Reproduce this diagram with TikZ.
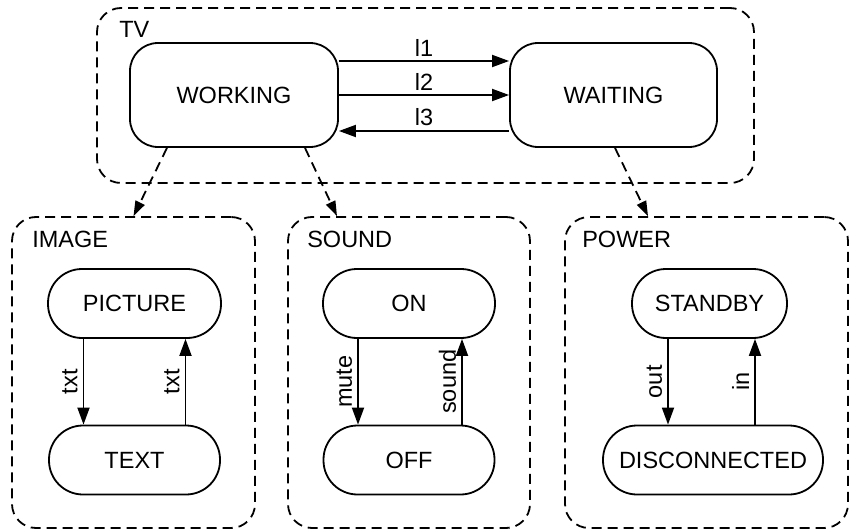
\documentclass[tikz,border=0pt]{standalone}
\usepackage{fontspec}
\setmainfont{Liberation Sans}
\usetikzlibrary{arrows.meta}

\tikzset{
  state/.style={draw, line width=1.8pt, rectangle, rounded corners=28pt, inner sep=0pt},
  mode/.style={draw, line width=1.8pt, rectangle, rounded corners=34pt, minimum height=69pt, inner sep=0pt},
  cluster/.style={draw, line width=1.8pt, dash pattern=on 10pt off 6pt, rectangle, rounded corners=24pt, inner sep=0pt},
  clabel/.style={anchor=north west, inner sep=0pt},
  trans/.style={line width=1.8pt, -{Triangle[length=17pt,width=12pt]}},
  refine/.style={line width=1.8pt, dash pattern=on 10pt off 6pt, -{Triangle[length=15pt,width=10pt]}},
  tlabel/.style={midway, rotate=90, anchor=south, inner sep=5pt},
}

\begin{document}
\begin{tikzpicture}[x=1pt, y=-1pt, every node/.style={font=\fontsize{23.5}{28}\selectfont}]
    \useasboundingbox (0,0) rectangle (852,532);

    % Boxes
    \node[cluster, minimum width=657pt, minimum height=175pt] (tv) at (425.5,95.5) {};
    \node[cluster, minimum width=243pt, minimum height=311pt] (image) at (133.5,372.5) {};
    \node[cluster, minimum width=242pt, minimum height=311pt] (sound) at (409,372.5) {};
    \node[cluster, minimum width=283pt, minimum height=311pt] (power) at (706.5,372.5) {};
    \node[clabel] at ([shift={(23pt,-14pt)}]tv.north west) {TV};
    \node[clabel] at ([shift={(21pt,-15pt)}]image.north west) {IMAGE};
    \node[clabel] at ([shift={(20pt,-15pt)}]sound.north west) {SOUND};
    \node[clabel] at ([shift={(18pt,-15pt)}]power.north west) {POWER};

    % TV
    \node[state, minimum width=208pt, minimum height=104pt] (working) at (234,95) {WORKING};
    \node[state, minimum width=207pt, minimum height=104pt] (waiting) at (613.5,95) {WAITING};
    \draw[trans] ([yshift=34pt]working.east) -- ([yshift=34pt]waiting.west) node[midway, above, inner sep=4pt] {l1};
    \draw[trans] (working.east) -- (waiting.west) node[midway, above, inner sep=4pt] {l2};
    \draw[trans] ([yshift=-36pt]waiting.west) -- ([yshift=-36pt]working.east) node[midway, above, inner sep=4pt] {l3};

    % Image
    \node[mode, minimum width=173pt] (picture) at (134.5,303.5) {PICTURE};
    \node[mode, minimum width=171pt] (text) at (134.5,460) {TEXT};
    \draw[trans] ([xshift=-51pt]picture.south) -- ([xshift=-51pt]text.north) node[tlabel] {txt};
    \draw[trans] ([xshift=51pt]text.north) -- ([xshift=51pt]picture.south) node[tlabel] {txt};

    % Sound
    \node[mode, minimum width=172pt] (on) at (409,303.5) {ON};
    \node[mode, minimum width=171pt] (off) at (409,460) {OFF};
    \draw[trans] ([xshift=-51pt]on.south) -- ([xshift=-51pt]off.north) node[tlabel] {mute};
    \draw[trans] ([xshift=53pt]off.north) -- ([xshift=53pt]on.south) node[tlabel] {sound};

    % Power
    \node[mode, minimum width=155pt] (standby) at (709.5,303.5) {STANDBY};
    \node[mode, minimum width=220pt] (disconnected) at (713,460) {DISCONNECTED};
    \draw[trans] ([xshift=-41.5pt]standby.south) -- ([xshift=-41.5pt]standby.south |- disconnected.north) node[tlabel] {out};
    \draw[trans] ([xshift=45.5pt]standby.south |- disconnected.north) -- ([xshift=45.5pt]standby.south) node[tlabel] {in};

    % Refinements
    \draw[refine] ([xshift=-67pt]working.south) -- (image.north);
    \draw[refine] ([xshift=71pt]working.south) -- ([xshift=-72pt]sound.north);
    \draw[refine] ([xshift=1.5pt]waiting.south) -- ([xshift=-58.5pt]power.north);
\end{tikzpicture}
\end{document}
